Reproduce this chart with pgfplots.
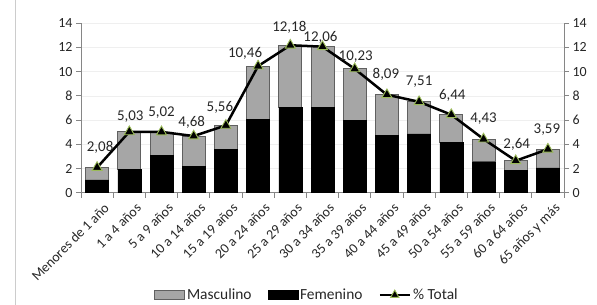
\documentclass[border=0pt]{standalone}
\usepackage{fontspec}
\setmainfont{Carlito}
\usepackage{pgfplots}
\usepackage{pgfplotstable}
\pgfplotsset{compat=1.18}
\definecolor{mgray}{HTML}{A6A6A6}
\definecolor{edgegray}{HTML}{606060}
\definecolor{axgray}{HTML}{868686}
\definecolor{gridc}{HTML}{EFEFEF}
\definecolor{tri}{HTML}{9BBB59}
\definecolor{txt}{HTML}{262626}
\pgfplotsset{
  barleg/.style={legend image code/.code={\draw[##1] (0bp,-4.5bp) rectangle (30bp,4.5bp);}},
  lineleg/.style={legend image code/.code={\draw[mark repeat=2, mark phase=2, ##1] plot coordinates {(0bp,0bp) (15bp,0bp) (30bp,0bp)};}},
}

\pgfplotstableread{
x total fem masc dx dy
0 2.08 1.05 1.03 3 20
1 5.03 1.93 3.10 1 15
2 5.02 3.10 1.92 0 19
3 4.68 2.15 2.53 -2 14
4 5.56 3.58 1.98 -6 18
5 10.46 6.05 4.41 -13 13
6 12.18 7.05 5.13 -1 18
7 12.06 7.05 5.01 -2 9
8 10.23 5.95 4.28 1 12
9 8.09 4.75 3.34 -1 20
10 7.51 4.85 2.66 0 20
11 6.44 4.13 2.31 1 19
12 4.43 2.55 1.88 0 20
13 2.64 1.85 0.79 1 16
14 3.59 2.05 1.54 -1 20
}\datatable

\begin{document}
\begin{tikzpicture}
\path[use as bounding box] (-81bp,-112.3bp) rectangle (516bp,192.7bp);
\draw[gray!40, line width=0.8bp] (-66bp,-112.3bp) -- (-66bp,192.7bp);
\begin{axis}[
  at={(0,0)}, anchor=south west, scale only axis,
  width=483bp, height=169.5bp,
  xmin=-0.5, xmax=14.5, ymin=0, ymax=14,
  ybar stacked, bar width=23bp,
  clip=false,
  axis x line*=bottom, axis y line*=left,
  axis line style={axgray, line width=0.7bp},
  tick style={axgray, line width=0.7bp},
  tick align=outside, major tick length=5bp,
  xtick={-0.5,0.5,...,14.5}, xticklabels={},
  extra x ticks={0,1,...,14},
  extra x tick labels={Menores de 1 año, 1 a 4 años, 5 a 9 años, 10 a 14 años, 15 a 19 años, 20 a 24 años, 25 a 29 años, 30 a 34 años, 35 a 39 años, 40 a 44 años, 45 a 49 años, 50 a 54 años, 55 a 59 años, 60 a 64 años, 65 años y más},
  extra x tick style={major tick length=0pt},
  x tick label style={xshift=6bp, yshift=-8bp, rotate=45, anchor=north east, font=\fontsize{14}{15}\selectfont, text=txt, inner sep=1bp},
  ytick={0,2,...,14},
  y tick label style={font=\fontsize{14}{15}\selectfont, text=txt},
  /pgf/number format/assume math mode=true,
  ymajorgrids, grid style={gridc, line width=0.6bp},
]
\addplot[fill=black, draw=black, line width=0.6bp] table[x=x, y=fem] {\datatable};
\addplot[fill=mgray, draw=edgegray, line width=0.7bp] table[x=x, y=masc] {\datatable};
\end{axis}
\begin{axis}[
  at={(0,0)}, anchor=south west, scale only axis,
  width=483bp, height=169.5bp,
  xmin=-0.5, xmax=14.5, ymin=0, ymax=14,
  clip=false,
  axis x line=none, axis y line*=right,
  axis line style={axgray, line width=0.7bp},
  tick style={axgray, line width=0.7bp},
  tick align=outside, major tick length=5bp,
  ytick={0,2,...,14},
  y tick label style={font=\fontsize{14}{15}\selectfont, text=txt},
  /pgf/number format/assume math mode=true,
  legend columns=3,
  legend style={at={(0.468,-0.603)}, anchor=center, draw=none, fill=none,
    font=\fontsize{15.5}{17}\selectfont, text=txt,
    /tikz/every even column/.append style={column sep=14bp}},
]
\addlegendimage{barleg, fill=mgray, draw=edgegray, line width=0.7bp}
\addlegendentry{Masculino}
\addlegendimage{barleg, fill=black, draw=black}
\addlegendentry{Femenino}
\addplot[black, line width=2.5bp,
  mark=triangle*, mark size=5.8bp,
  mark options={fill=black, draw=tri, line width=0.9bp},
  lineleg,
  legend image post style={mark size=4.8bp},
  point meta=explicit,
  visualization depends on={\thisrow{dx} \as \ldx},
  visualization depends on={\thisrow{dy} \as \ldy},
  nodes near coords={\pgfmathprintnumber[fixed,fixed zerofill,precision=2,use comma,assume math mode=true]{\pgfplotspointmeta}},
  every node near coord/.append style={anchor=center, xshift=\ldx bp, yshift=\ldy bp, font=\fontsize{15}{16}\selectfont, text=txt, inner sep=0pt},
] table[x=x, y=total, meta=total] {\datatable};
\addlegendentry{\% Total}
\end{axis}
\end{tikzpicture}
\end{document}
